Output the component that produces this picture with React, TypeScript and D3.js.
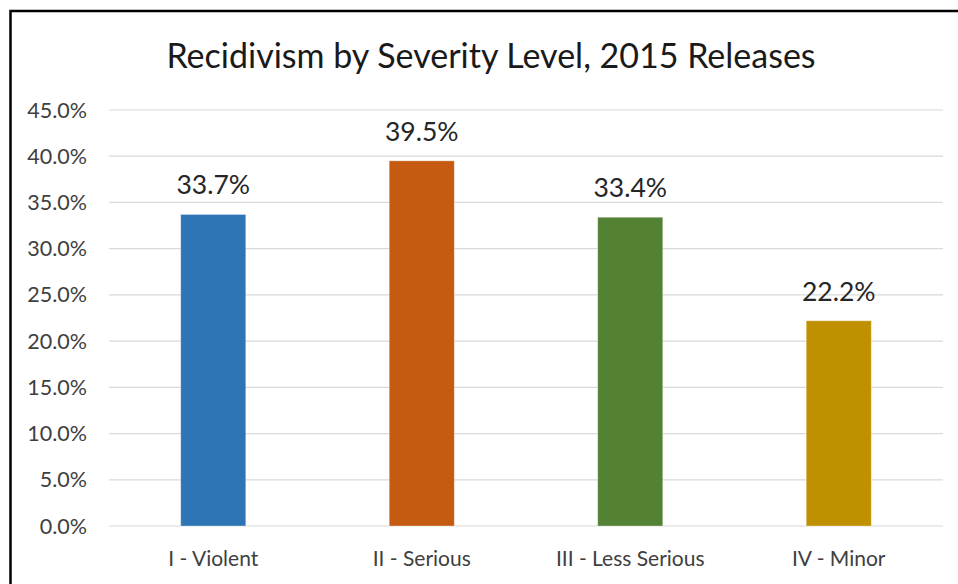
import React from "react";
import * as d3 from "d3";

const categories = ["I - Violent", "II - Serious", "III - Less Serious", "IV - Minor"];
const values = [33.7, 39.5, 33.4, 22.2];
const colors = ["#2E75B6", "#C55A11", "#548235", "#BF9000"];
const yTicks = [0, 5, 10, 15, 20, 25, 30, 35, 40, 45];
const title = "Recidivism by Severity Level, 2015 Releases";

const W = 958;
const H = 584;
const FONT = "Lato, 'Open Sans', sans-serif";

export default function App() {
  const x = d3.scaleBand<string>().domain(categories).range([109, 943]).paddingInner(0.688).paddingOuter(0.344);
  const y = d3.scaleLinear().domain([0, 45]).range([526, 110]);
  return (
    <svg width={W} height={H} style={{ position: "absolute", left: 0, top: 0, background: "#fff" }}>
      <rect x={0} y={0} width={W} height={H} fill="#fff" />
      <path d={`M10.5,${H + 5} L10.5,11 L${W + 5},11`} fill="none" stroke="#000" strokeWidth={2.5} />
      <text x={491} y={68} textAnchor="middle" fontFamily={FONT} fontSize={34} fill="#1a1a1a">{title}</text>
      {yTicks.map((t) => (
        <g key={t}>
          <line x1={109} x2={943} y1={y(t)} y2={y(t)} stroke="#d9d9d9" strokeWidth={1.2} />
          <text x={87} y={y(t) + 7.5} textAnchor="end" fontFamily={FONT} fontSize={21.5} fill="#404040">{t.toFixed(1)}%</text>
        </g>
      ))}
      {categories.map((c, i) => {
        const bx = x(c) as number;
        const bw = x.bandwidth();
        return (
          <g key={c}>
            <rect x={bx} y={y(values[i])} width={bw} height={y(0) - y(values[i])} fill={colors[i]} stroke="#fff" strokeOpacity={0.4} strokeWidth={0.8} />
            <text x={bx + bw / 2} y={y(values[i]) - 20} textAnchor="middle" fontFamily={FONT} fontSize={26.5} fill="#262626">{values[i].toFixed(1)}%</text>
            <text x={bx + bw / 2} y={566} textAnchor="middle" fontFamily={FONT} fontSize={21} fill="#404040">{c}</text>
          </g>
        );
      })}
    </svg>
  );
}
